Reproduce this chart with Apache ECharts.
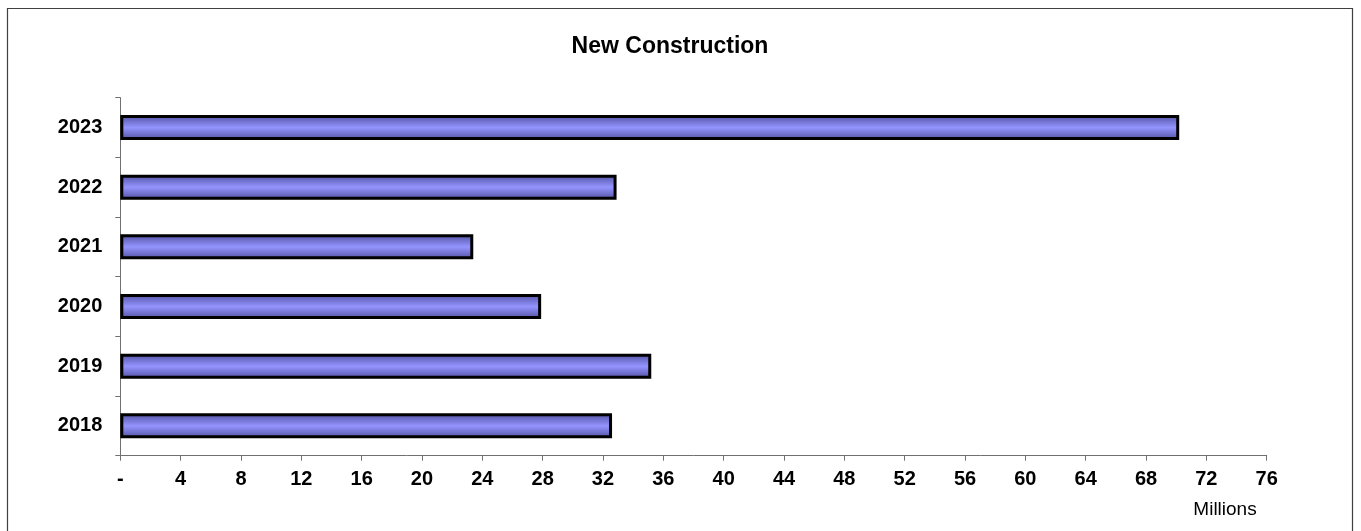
<!DOCTYPE html>
<html>
<head>
<meta charset="utf-8">
<script src="https://cdn.jsdelivr.net/npm/echarts@6/dist/echarts.min.js"></script>
<style>
  html, body { margin: 0; padding: 0; background: #fff; }
  #chart { width: 1361px; height: 531px; }
</style>
</head>
<body>
<div id="chart"></div>
<script>
// Construction value by year (millions)
const categories = ['2018', '2019', '2020', '2021', '2022', '2023'];
const values = [32.6, 35.2, 27.9, 23.4, 32.9, 70.2];
const titleText = 'New Construction';
const unitLabel = 'Millions';

const chart = echarts.init(document.getElementById('chart'), null, { renderer: 'canvas' });

const barFill = new echarts.graphic.LinearGradient(0, 0, 0, 1, [
  { offset: 0, color: '#5050a0' },
  { offset: 0.5, color: '#9494ff' },
  { offset: 1, color: '#5050a0' }
]);

const labelFont = { fontFamily: 'Liberation Sans, Arial, sans-serif', fontWeight: 'bold', fontSize: 20, color: '#000' };

chart.setOption({
  animation: false,
  backgroundColor: '#fff',
  grid: { left: 120.3, right: 94.3, top: 97.7, bottom: 75.3 },
  xAxis: {
    type: 'value',
    min: 0,
    max: 76,
    interval: 4,
    axisLine: { show: true, lineStyle: { color: '#707070', width: 1 } },
    axisTick: { show: true, length: 5, lineStyle: { color: '#707070' } },
    splitLine: { show: false },
    axisLabel: Object.assign({}, labelFont, {
      margin: 14,
      formatter: v => (v === 0 ? '-' : String(v))
    })
  },
  yAxis: {
    type: 'category',
    data: categories,
    axisLine: { show: true, lineStyle: { color: '#707070', width: 1 } },
    axisTick: { show: true, length: 5, lineStyle: { color: '#707070' } },
    axisLabel: Object.assign({}, labelFont, { margin: 18 })
  },
  series: [{
    type: 'bar',
    data: values,
    barWidth: 25,
    itemStyle: { color: barFill, borderColor: '#000', borderWidth: 3 }
  }],
  graphic: [
    {
      type: 'rect',
      silent: true,
      shape: { x: 7.5, y: 8.5, width: 1345, height: 560 },
      style: { fill: null, stroke: '#404040', lineWidth: 1.2 }
    },
    {
      type: 'text',
      x: 670, y: 47,
      style: {
        text: titleText,
        textAlign: 'center', textVerticalAlign: 'middle',
        font: 'bold 23px "Liberation Sans", Arial, sans-serif', fill: '#000'
      }
    },
    {
      type: 'text',
      x: 1225, y: 510,
      style: {
        text: unitLabel,
        textAlign: 'center', textVerticalAlign: 'middle',
        font: '19px "Liberation Sans", Arial, sans-serif', fill: '#000'
      }
    }
  ]
});
</script>
</body>
</html>
